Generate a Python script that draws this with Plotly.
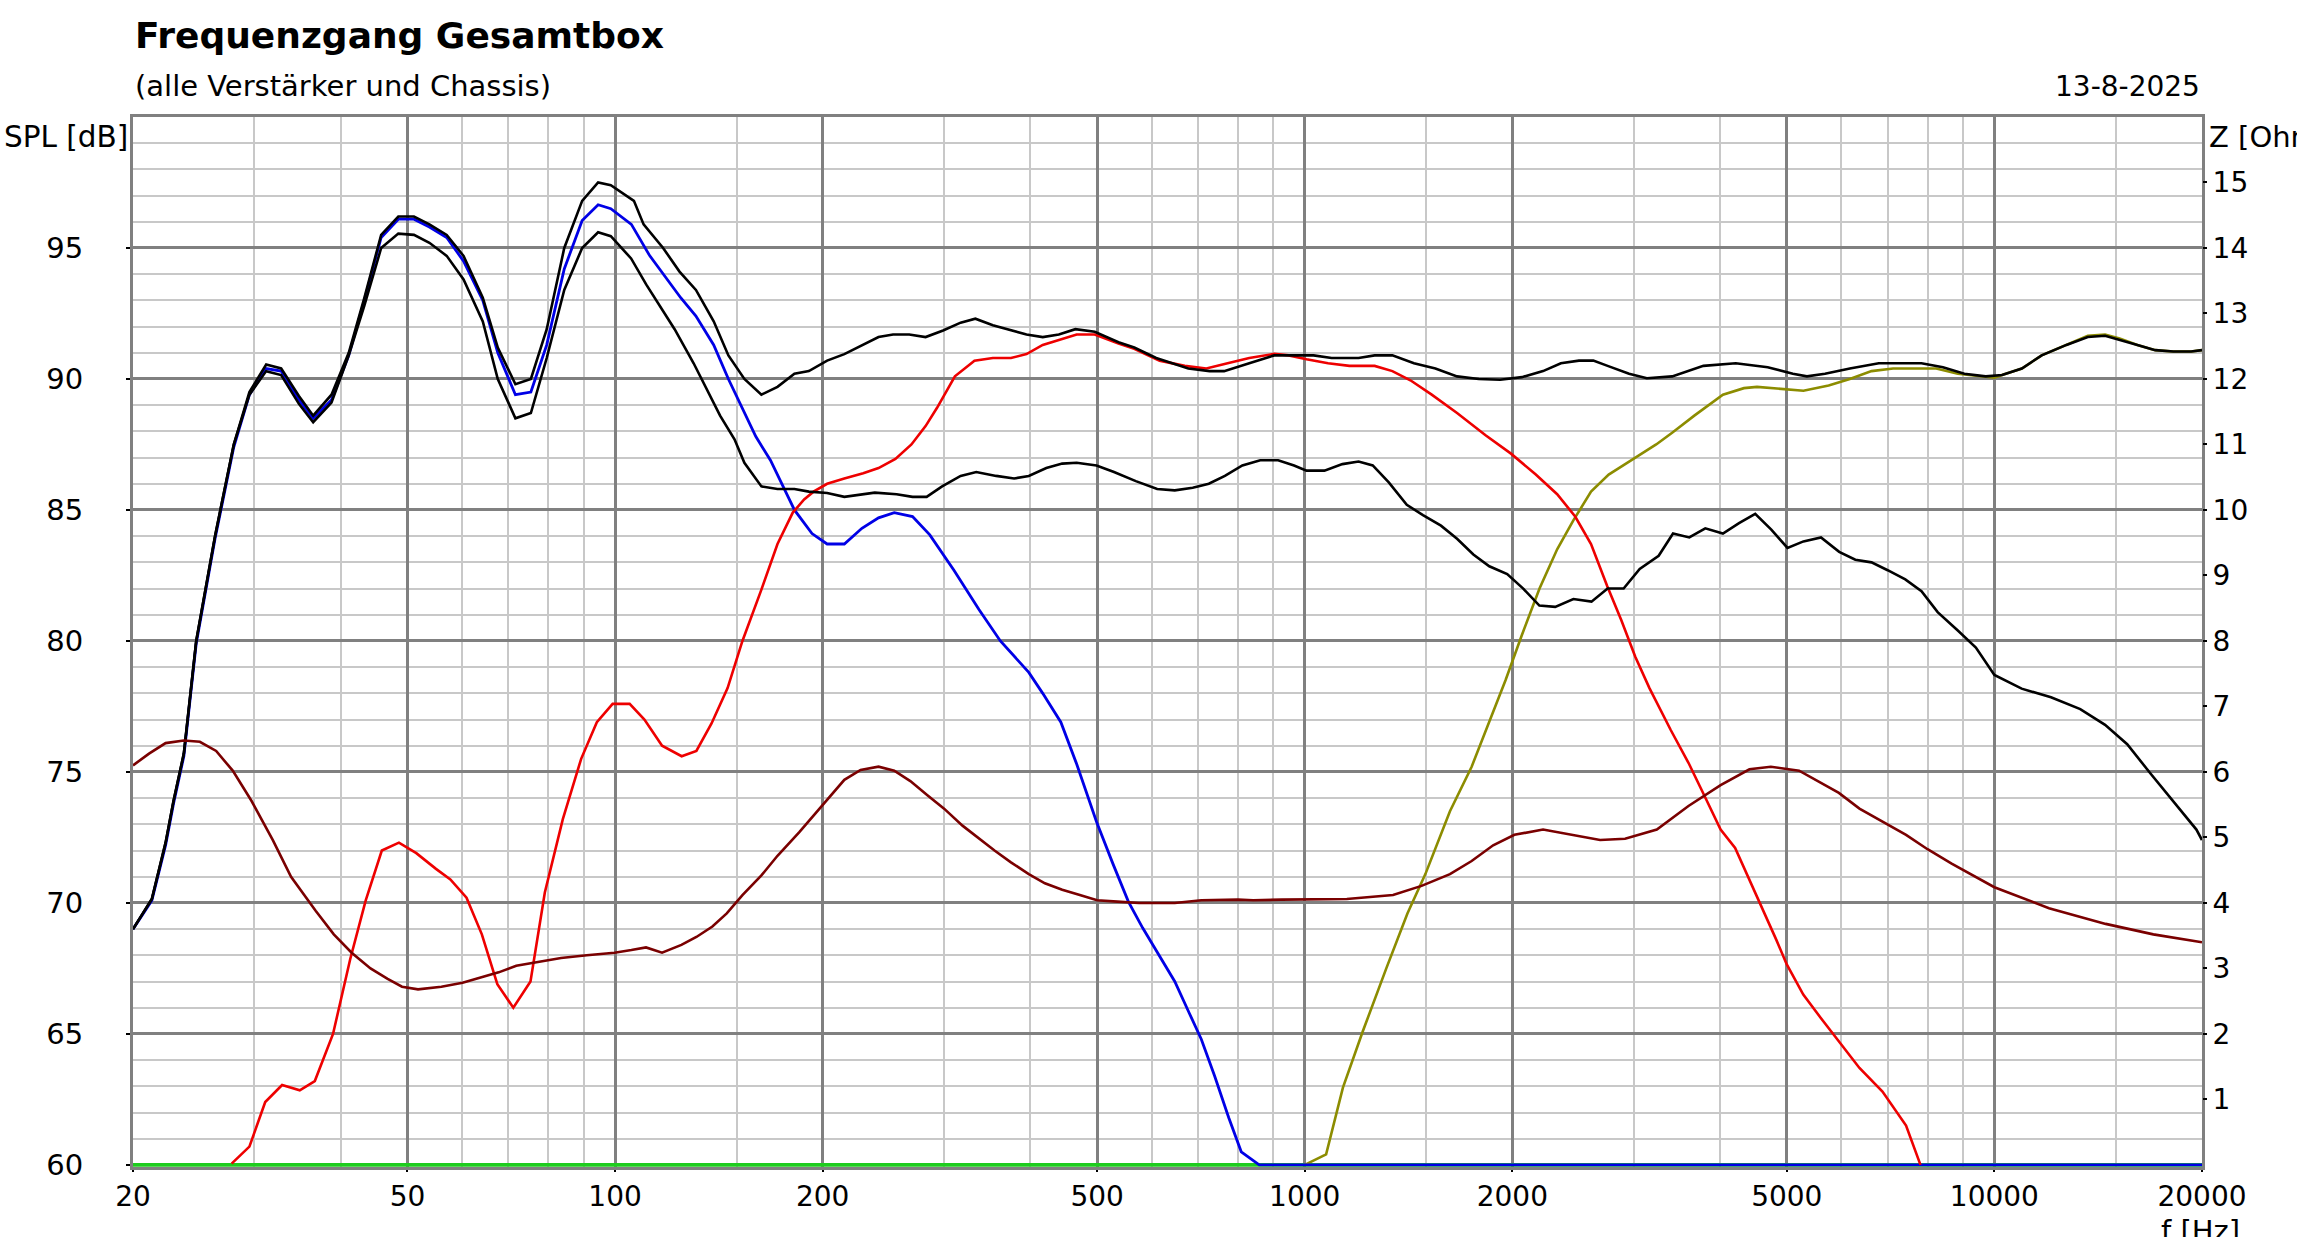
import plotly.graph_objects as go

# ---------------- data ----------------
# Upper black curve: total SPL
f_total = [20, 21.3, 22.3, 22.9, 23.7, 24.7, 26.3, 27.0, 28.0, 29.5, 31.2, 32.8, 34.8, 36.5, 38.8,
           41.1, 43.3, 45.8, 48.5, 51.1, 53.8, 57.0, 60.3, 64.3, 67.6, 71.7, 75.5, 79.6, 84.4,
           89.6, 94.5, 98.6, 106.5, 110, 117.4, 124, 131, 139, 146, 154, 163, 172, 182, 191,
           203, 215, 229, 241, 253, 267, 282, 299, 317, 333, 353, 372, 395, 417, 440, 465, 496,
           537, 566, 609, 678, 728, 764, 831, 903, 948, 1030, 1094, 1197, 1263, 1340, 1440,
           1547, 1663, 1788, 1920, 2065, 2216, 2352, 2498, 2621, 2749, 2953, 3134, 3410, 3785,
           4217, 4692, 5103, 5348, 5680, 6172, 6798, 7302, 7840, 8422, 9045, 9716, 10260,
           10960, 11710, 12720, 13660, 14470, 15190, 16120, 17110, 18170, 19290, 20000]
spl_total = [69.0, 70.15, 72.3, 73.9, 75.7, 80.0, 84.0, 85.5, 87.5, 89.5, 90.55, 90.4, 89.35, 88.6,
             89.4, 91.0, 93.1, 95.5, 96.2, 96.2, 95.9, 95.5, 94.7, 93.1, 91.2, 89.8, 90.0, 91.9,
             95.0, 96.8, 97.5, 97.4, 96.8, 95.9, 95.0, 94.1, 93.4, 92.2, 90.9, 90.0, 89.4, 89.7,
             90.2, 90.3, 90.7, 90.95, 91.3, 91.6, 91.7, 91.7, 91.6, 91.85, 92.15, 92.3, 92.05,
             91.9, 91.7, 91.6, 91.7, 91.9, 91.8, 91.4, 91.2, 90.8, 90.4, 90.3, 90.3, 90.6, 90.9,
             90.9, 90.9, 90.8, 90.8, 90.9, 90.9, 90.6, 90.4, 90.1, 90.0, 89.97, 90.07, 90.3,
             90.6, 90.7, 90.7, 90.5, 90.2, 90.03, 90.1, 90.5, 90.6, 90.45, 90.2, 90.1, 90.2,
             90.4, 90.6, 90.6, 90.6, 90.45, 90.2, 90.1, 90.15, 90.4, 90.9, 91.3, 91.6, 91.65,
             91.5, 91.3, 91.1, 91.05, 91.05, 91.1]

# Lower black curve: alternative sum
f_alt = [20, 21.3, 22.3, 22.9, 23.7, 24.7, 26.3, 27.0, 28.0, 29.5, 31.2, 32.8, 34.8, 36.5, 38.8,
         41.1, 43.3, 45.8, 48.5, 51.1, 53.8, 57.0, 60.3, 64.3, 67.6, 71.7, 75.5, 79.6, 84.4, 89.6,
         94.5, 98.6, 105.5, 111, 116, 122, 130, 135, 142, 149, 154, 163, 172, 182, 191, 203,
         215, 238, 256, 270, 283, 298, 317, 334, 357, 379, 398, 422, 445, 467, 499, 529, 569,
         611, 648, 688, 726, 766, 812, 862, 915, 965, 1006, 1068, 1134, 1197, 1255, 1324, 1406,
         1484, 1576, 1663, 1756, 1852, 1966, 2074, 2189, 2308, 2452, 2605, 2749, 2900, 3060,
         3260, 3420, 3611, 3809, 4040, 4263, 4500, 4748, 5012, 5286, 5605, 5956, 6286, 6635,
         7002, 7427, 7840, 8274, 8850, 9400, 10000, 10953, 12080, 13320, 14470, 15580, 16840,
         18280, 19630, 20000]
spl_alt = [69.0, 70.15, 72.3, 73.9, 75.7, 80.0, 84.0, 85.5, 87.5, 89.4, 90.3, 90.15, 89.05, 88.35,
           89.1, 90.9, 92.8, 95.0, 95.55, 95.5, 95.2, 94.7, 93.8, 92.2, 90.0, 88.5, 88.7, 90.8,
           93.4, 95.0, 95.6, 95.45, 94.6, 93.6, 92.8, 91.9, 90.6, 89.75, 88.6, 87.7, 86.8, 85.9,
           85.8, 85.8, 85.7, 85.65, 85.5, 85.66, 85.6, 85.5, 85.5, 85.9, 86.3, 86.45, 86.3, 86.2,
           86.3, 86.6, 86.77, 86.8, 86.7, 86.45, 86.1, 85.8, 85.75, 85.85, 86.0, 86.3, 86.7,
           86.9, 86.9, 86.7, 86.5, 86.5, 86.75, 86.85, 86.7, 86.05, 85.2, 84.8, 84.4, 83.9, 83.3,
           82.85, 82.55, 82.0, 81.35, 81.3, 81.6, 81.5, 82.0, 82.0, 82.75, 83.25, 84.1, 83.95,
           84.3, 84.1, 84.5, 84.85, 84.25, 83.55, 83.8, 83.95, 83.4, 83.1, 83.0, 82.7, 82.35,
           81.9, 81.1, 80.4, 79.75, 78.7, 78.18, 77.85, 77.4, 76.8, 76.06, 74.94, 73.8, 72.8,
           72.4]

# Blue: woofer
f_woofer = [20, 21.3, 22.3, 22.9, 23.7, 24.7, 26.3, 27.0, 28.0, 29.5, 31.2, 32.8, 34.8, 36.5, 38.8,
            41.1, 43.3, 45.8, 48.5, 51.1, 53.8, 57.0, 60.3, 64.3, 67.6, 71.7, 75.5, 79.6, 84.4,
            89.6, 94.5, 98.6, 105.6, 112.3, 117.4, 124.5, 131, 139, 146, 153, 160, 168, 176,
            182, 193, 203, 215, 228, 241, 254, 270, 286, 310, 337, 362, 379, 398, 417, 443, 467,
            499, 527, 555, 582, 611, 648, 680, 708, 740, 776, 809, 859, 20000]
spl_woofer = [69.0, 70.1, 72.2, 73.8, 75.6, 79.9, 83.9, 85.4, 87.4, 89.4, 90.4, 90.3, 89.2, 88.5,
              89.2, 90.9, 93.0, 95.4, 96.1, 96.1, 95.8, 95.4, 94.5, 93.0, 91.0, 89.4, 89.5, 91.3,
              94.2, 96.05, 96.65, 96.5, 95.9, 94.7, 94.0, 93.1, 92.4, 91.3, 90.0, 88.9, 87.8,
              86.9, 85.8, 85.0, 84.1, 83.7, 83.7, 84.3, 84.7, 84.9, 84.75, 84.05, 82.7, 81.2,
              80.0, 79.4, 78.8, 78.0, 76.9, 75.3, 73.1, 71.5, 70.05, 69.05, 68.1, 67.0, 65.8,
              64.8, 63.4, 61.8, 60.5, 60.0, 60.0]

# Red: midrange
f_mid = [27.8, 29.5, 31.1, 32.9, 34.9, 36.7, 39.0, 41.3, 43.5, 45.9, 48.6, 51.5, 55, 57.7, 60.9,
         64.1, 67.5, 71.2, 75.4, 79.1, 84.0, 89.3, 94.1, 99.2, 105, 110.3, 117, 124.9, 131.2,
         138, 145.6, 153, 163, 172, 181, 188, 194, 203, 215, 229, 241, 255, 269, 282, 293, 311,
         332, 353, 375, 395, 417, 440, 467, 496, 537, 566, 616, 670, 720, 773, 831, 903, 948,
         1006, 1081, 1161, 1263, 1340, 1423, 1528, 1663, 1829, 1991, 2163, 2323, 2467, 2601,
         2745, 2877, 3015, 3161, 3394, 3601, 3821, 4009, 4208, 4414, 4631, 4827, 5000, 5283,
         5605, 5950, 6373, 6882, 7446, 7813]
spl_mid = [60.05, 60.7, 62.4, 63.05, 62.85, 63.2, 65.0, 67.85, 70.1, 72.0, 72.3, 71.9, 71.3, 70.9,
           70.2, 68.8, 66.9, 66.0, 67.0, 70.4, 73.2, 75.5, 76.9, 77.6, 77.6, 77.0, 76.0, 75.6,
           75.8, 76.85, 78.2, 80.0, 81.96, 83.7, 84.9, 85.4, 85.7, 86.0, 86.2, 86.4, 86.6, 86.95,
           87.5, 88.2, 88.9, 90.1, 90.7, 90.8, 90.8, 90.95, 91.3, 91.5, 91.7, 91.7, 91.35, 91.15,
           90.7, 90.5, 90.4, 90.6, 90.8, 90.96, 90.9, 90.75, 90.6, 90.5, 90.5, 90.3, 89.95, 89.4,
           88.7, 87.85, 87.15, 86.35, 85.6, 84.75, 83.7, 82.1, 80.8, 79.4, 78.2, 76.6, 75.35,
           73.95, 72.8, 72.1, 70.9, 69.7, 68.6, 67.65, 66.5, 65.6, 64.7, 63.7, 62.8, 61.5, 60.0]

# Olive: tweeter
f_tweeter = [1000, 1074, 1136, 1214, 1313, 1409, 1496, 1624, 1746, 1853, 1955, 2063, 2190, 2323,
             2452, 2601, 2759, 2977, 3233, 3410, 3672, 4040, 4334, 4527, 4805, 5286, 5750, 6172,
             6635, 7130, 7665, 8235, 8850, 9514, 10000, 10260, 10960, 11710, 12720, 13660, 14470,
             15190, 16120, 17110, 18170, 19290, 20000]
spl_tweeter = [60.0, 60.4, 62.95, 65.1, 67.5, 69.6, 71.1, 73.5, 75.2, 76.9, 78.5, 80.2, 82.0, 83.5,
               84.6, 85.7, 86.35, 86.9, 87.5, 87.95, 88.6, 89.4, 89.65, 89.7, 89.65, 89.55, 89.75,
               90.0, 90.3, 90.4, 90.4, 90.4, 90.2, 90.1, 90.05, 90.15, 90.4, 90.9, 91.3, 91.65,
               91.7, 91.55, 91.3, 91.1, 91.05, 91.05, 91.1]

# Green: flat at the bottom of the scale
f_sub = [20, 20000]
spl_sub = [60, 60]

# Maroon: impedance [Ohm] (right axis)
f_imp = [20, 21.1, 22.3, 23.7, 25, 26.4, 27.9, 29.7, 31.9, 33.9, 36.8, 39.1, 41.5, 44.2, 46.8, 49.1,
         51.8, 56, 60.1, 63.8, 67.8, 71.9, 77, 83.5, 91, 99.8, 105.6, 110.9, 117, 124.8, 131.2,
         138.4, 145.2, 153, 163, 172, 185, 200, 215, 227, 241, 254, 268, 284, 300, 319, 337, 355,
         375, 398, 420, 445, 472, 500, 535, 575, 648, 708, 800, 842, 926, 1045, 1151, 1343, 1477,
         1624, 1746, 1876, 2014, 2216, 2437, 2681, 2914, 3240, 3601, 4009, 4414, 4741, 5210,
         5605, 5950, 6373, 6900, 7446, 8000, 8670, 10000, 12000, 14500, 17000, 20000]
z_imp = [6.10, 6.28, 6.44, 6.48, 6.46, 6.32, 6.02, 5.56, 4.96, 4.40, 3.88, 3.52, 3.24, 3.00, 2.84,
         2.72, 2.68, 2.72, 2.78, 2.86, 2.94, 3.04, 3.10, 3.16, 3.20, 3.24, 3.28, 3.32, 3.24, 3.36,
         3.48, 3.64, 3.84, 4.12, 4.42, 4.72, 5.08, 5.50, 5.88, 6.03, 6.08, 6.02, 5.86, 5.64, 5.44,
         5.18, 4.98, 4.80, 4.62, 4.44, 4.30, 4.20, 4.12, 4.04, 4.02, 4.00, 4.00, 4.04, 4.05, 4.04,
         4.05, 4.05, 4.06, 4.12, 4.26, 4.44, 4.64, 4.88, 5.04, 5.12, 5.04, 4.96, 4.98, 5.12, 5.48,
         5.80, 6.04, 6.08, 6.02, 5.84, 5.68, 5.44, 5.24, 5.04, 4.82, 4.60, 4.24, 3.92, 3.68, 3.52,
         3.40]

x_tick_vals = [20, 50, 100, 200, 500, 1000, 2000, 5000, 10000, 20000]
x_tick_text = ["20", "50", "100", "200", "500", "1000", "2000", "5000", "10000", "20000"]
x_minor_vals = [30, 40, 60, 70, 80, 90, 150, 300, 400, 600, 700, 800, 900, 1500,
                3000, 4000, 6000, 7000, 8000, 9000, 15000]
spl_tick_vals = [60, 65, 70, 75, 80, 85, 90, 95]
z_tick_vals = list(range(1, 16))

title_text = "<b>Frequenzgang Gesamtbox</b>"
subtitle_text = "(alle Verstärker und Chassis)"
date_text = "13-8-2025"

# ---------------- figure ----------------
FONT = "DejaVu Sans"
W, H = 2297, 1237
ML, MR, MT, MB = 133, 95, 117, 70
PW, PH = W - ML - MR, H - MT - MB

MAJOR = "#808080"
MINOR = "#c8c8c8"

fig = go.Figure()

def add(fx, fy, color, name, yaxis="y", width=2.6):
    fig.add_trace(go.Scatter(x=fx, y=fy, mode="lines", name=name, yaxis=yaxis,
                             line=dict(color=color, width=width), cliponaxis=False,
                             hoverinfo="skip", showlegend=False))

add(f_sub, spl_sub, "#1ecc1e", "Subwoofer", width=3.6)
add(f_imp, z_imp, "#7a0000", "Impedanz", yaxis="y2")
add(f_tweeter, spl_tweeter, "#8c8c00", "Hochtöner")
add(f_woofer, spl_woofer, "#0000e6", "Tieftöner", width=2.8)
add(f_mid, spl_mid, "#ee0000", "Mitteltöner")
add(f_alt, spl_alt, "#000000", "Summe 2")
add(f_total, spl_total, "#000000", "Summe")

def py(ypx):
    return (H - MB - ypx) / PH

def px(xpx):
    return (xpx - ML) / PW

ann = []
ann.append(dict(text=title_text, x=0, y=py(35), xref="paper", yref="paper", xanchor="left",
                yanchor="middle", showarrow=False, font=dict(family=FONT, size=36, color="black")))
ann.append(dict(text=subtitle_text, x=0, y=py(86), xref="paper", yref="paper", xanchor="left",
                yanchor="middle", showarrow=False, font=dict(family=FONT, size=29, color="black")))
ann.append(dict(text=date_text, x=1, y=py(86), xref="paper", yref="paper", xanchor="right",
                yanchor="middle", showarrow=False, font=dict(family=FONT, size=28, color="black")))
ann.append(dict(text="SPL [dB]", x=px(2), y=py(137), xref="paper", yref="paper", xanchor="left",
                yanchor="middle", showarrow=False, font=dict(family=FONT, size=29.5, color="black")))
ann.append(dict(text="Z [Ohm]", x=px(2207), y=py(137), xref="paper", yref="paper", xanchor="left",
                yanchor="middle", showarrow=False, font=dict(family=FONT, size=29, color="black")))
ann.append(dict(text="f [Hz]", x=px(2200), y=py(1231), xref="paper", yref="paper", xanchor="center",
                yanchor="middle", showarrow=False, font=dict(family=FONT, size=29, color="black")))

fig.update_layout(
    width=W, height=H, autosize=False,
    margin=dict(l=ML, r=MR, t=MT, b=MB, pad=0),
    paper_bgcolor="white", plot_bgcolor="white",
    font=dict(family=FONT, size=28, color="black"),
    annotations=ann,
    xaxis=dict(type="log", range=[1.30103, 4.30103], tickmode="array",
               tickvals=x_tick_vals, ticktext=x_tick_text,
               showgrid=True, gridcolor=MAJOR, gridwidth=2.5,
               minor=dict(tickmode="array", tickvals=x_minor_vals, showgrid=True,
                          gridcolor=MINOR, gridwidth=1.5, ticks=""),
               showline=True, mirror=True, linecolor=MAJOR, linewidth=3,
               ticks="outside", ticklen=2, tickcolor="black", tickwidth=2,
               ticklabelstandoff=0, zeroline=False, layer="below traces",
               tickfont=dict(family=FONT, size=28, color="black")),
    yaxis=dict(range=[59.92, 100], tickmode="array", tickvals=spl_tick_vals,
               showgrid=True, gridcolor=MAJOR, gridwidth=2.5,
               minor=dict(dtick=1, tick0=60, showgrid=True, gridcolor=MINOR, gridwidth=1.5, ticks=""),
               showline=True, mirror=True, linecolor=MAJOR, linewidth=3,
               ticks="outside", ticklen=4, tickcolor="black", tickwidth=2,
               ticklabelstandoff=37, zeroline=False, layer="below traces",
               tickfont=dict(family=FONT, size=29, color="black")),
    yaxis2=dict(range=[-0.032, 16], overlaying="y", side="right", tickmode="array",
                tickvals=z_tick_vals, showgrid=False, zeroline=False,
                ticks="outside", ticklen=4, tickcolor="black", tickwidth=2,
                ticklabelstandoff=0, showline=False, layer="below traces",
                tickfont=dict(family=FONT, size=28, color="black")),
)

fig.write_html("out.html", config={"displayModeBar": False},
               post_script="document.body.style.margin='0';document.body.style.overflow='hidden';")
